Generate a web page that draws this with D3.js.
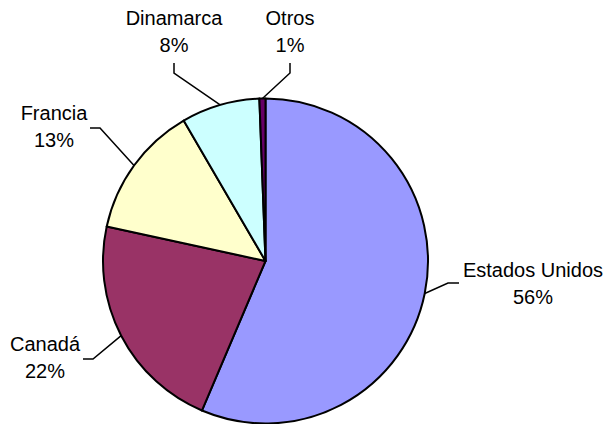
<!DOCTYPE html>
<html>
<head>
<meta charset="utf-8">
<script src="https://cdn.jsdelivr.net/npm/d3@7"></script>
<style>
  body { margin: 0; background: #fff; }
  text { font-family: "Liberation Sans", Arial, sans-serif; }
</style>
</head>
<body>
<svg id="chart"></svg>
<script>
// Data (share of total, in %)
const countries = ["Estados Unidos", "Canadá", "Francia", "Dinamarca", "Otros"];
const shares = [56.4, 22.0, 13.2, 7.8, 0.6];
const colors = ["#9999FF", "#993366", "#FFFFCC", "#CCFFFF", "#660066"];

// Graph dimensions
const width = 609;
const height = 424;
const cx = 265.5, cy = 261, radius = 162.5;

// where each label sits (center x, first baseline) and the elbow of its leader line
const labelLayout = {
  "Estados Unidos": { x: 533, y: 277, elbow: [448, 283], end: [459, 283] },
  "Canadá": { x: 45, y: 351, elbow: [93, 359], end: [83, 359] },
  "Francia": { x: 54, y: 120, elbow: [100, 128], end: [90, 128] },
  "Dinamarca": { x: 174, y: 25, elbow: [174, 73], end: [174, 63] },
  "Otros": { x: 290, y: 25, elbow: [290, 73], end: [290, 63] }
};

const svg = d3.select("#chart")
  .attr("width", width)
  .attr("height", height);

const data = countries.map((c, i) => ({ name: c, value: shares[i], color: colors[i] }));
const total = d3.sum(shares);

const pie = d3.pie().sort(null).value((d) => d.value);
const arcs = pie(data);

const arc = d3.arc().innerRadius(0).outerRadius(radius);

const g = svg.append("g").attr("transform", `translate(${cx},${cy})`);

g.selectAll("path")
  .data(arcs)
  .enter()
  .append("path")
  .attr("d", arc)
  .attr("fill", (d) => d.data.color)
  .attr("stroke", "#000")
  .attr("stroke-width", 2)
  .attr("stroke-linejoin", "round");

// Leader lines: start on the rim at the slice's middle angle
const pct = d3.format(".0%");
arcs.forEach((d) => {
  const lay = labelLayout[d.data.name];
  const mid = (d.startAngle + d.endAngle) / 2;
  const px = cx + radius * Math.sin(mid);
  const py = cy - radius * Math.cos(mid);

  svg.append("polyline")
    .attr("points", [[px, py], lay.elbow, lay.end].map((p) => p.join(",")).join(" "))
    .attr("fill", "none")
    .attr("stroke", "#000")
    .attr("stroke-width", 1.5);

  const t = svg.append("text")
    .attr("x", lay.x)
    .attr("y", lay.y)
    .attr("text-anchor", "middle")
    .style("font-size", "20px")
    .attr("fill", "#000");
  t.append("tspan").attr("x", lay.x).text(d.data.name);
  t.append("tspan").attr("x", lay.x).attr("dy", 26.5).text(pct(d.data.value / total));
});
</script>
</body>
</html>
